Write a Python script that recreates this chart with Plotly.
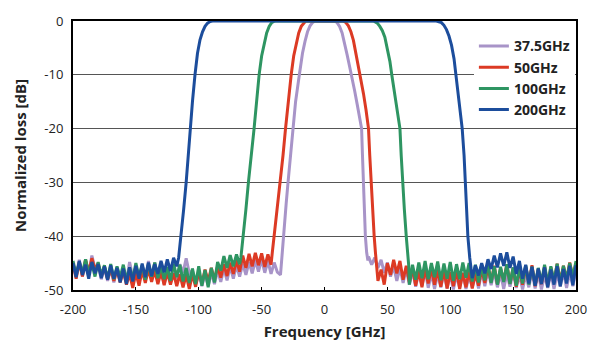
import plotly.graph_objects as go

STEP = 2.5

# ---------------- 200 GHz (blue) ----------------
blue_left_start = -200.0
blue_left_noise = [-45.0, -47.6, -44.6, -47.2, -45.3, -47.9, -44.8, -46.9, -45.2, -47.8,
                   -45.6, -48.1, -45.4, -47.9, -45.9, -48.6, -46.0, -48.9, -45.8, -48.4,
                   -45.5, -47.9, -45.1, -47.6, -44.9, -47.4, -45.2, -47.0, -44.6, -46.7,
                   -44.3, -46.5, -44.0, -45.6]
blue_edge_f = [-116, -115, -114, -112, -110, -108.5, -107, -105, -103, -101, -99, -97, -95, -93, -91, -89,
               89, 91, 93, 95, 97, 99, 101, 103, 104.5, 107, 109.5, 111, 112, 113, 114, 115.5, 116.5]
blue_edge_db = [-44, -42, -40, -35, -30, -25, -20, -15, -10, -6, -3.5, -2, -1, -0.4, -0.1, 0,
                0, -0.1, -0.3, -0.8, -1.6, -2.8, -4.5, -7, -10, -15, -20, -25, -30, -35, -40, -44, -46.5]
blue_right_start = 117.5
blue_right_noise = [-47.8, -45.4, -47.3, -45.0, -46.9, -44.3, -46.1, -43.6, -45.8, -43.2,
                    -45.5, -43.0, -45.9, -43.8, -47.0, -44.6, -47.9, -45.3, -48.8, -45.7,
                    -49.2, -46.0, -48.9, -45.8, -49.5, -46.2, -49.0, -45.6, -49.3, -46.1,
                    -48.8, -45.5, -49.1, -45.4]

# ---------------- 100 GHz (green) ----------------
green_left_start = -200.0
green_left_noise = [-44.6, -47.2, -44.9, -46.8, -44.3, -47.0, -45.1, -47.5, -44.8, -47.3,
                    -45.4, -47.9, -45.2, -48.0, -45.6, -47.7, -45.3, -48.2, -45.8, -47.9,
                    -45.0, -47.6, -45.4, -48.1, -45.2, -47.5, -44.9, -47.8, -45.5, -48.0,
                    -45.7, -48.3, -45.1, -47.6, -45.3, -48.4, -45.9, -48.7, -46.0, -48.9,
                    -45.6, -49.2, -46.3, -49.5, -45.9, -48.6, -44.8, -46.4, -43.7, -45.9,
                    -43.5, -45.6, -43.4, -45.2]
green_edge_f = [-66.5, -65.5, -64.5, -62.5, -60.5, -58, -56, -54, -52, -50, -48, -46, -44, -42, -40, -39,
                39, 40, 42, 44, 46, 48, 50, 52, 53.5, 56, 58, 60, 61, 62, 63.5, 65, 66, 67]
green_edge_db = [-44, -42, -40, -35, -30, -25, -20, -15, -10, -6.5, -4, -2.2, -1, -0.3, -0.05, 0,
                 0, -0.1, -0.4, -1, -1.8, -3, -5, -7.5, -10, -14, -17, -20, -25, -30, -35, -40, -43, -45.5]
green_right_start = 67.5
green_right_noise = [-49.0, -45.3, -48.1, -44.9, -47.8, -44.6, -48.0, -45.0, -47.6, -44.7,
                     -48.2, -45.1, -47.9, -44.8, -48.3, -45.2, -48.0, -44.9, -47.7, -45.0,
                     -48.4, -45.3, -48.6, -45.5, -48.2, -45.0, -48.7, -45.6, -49.0, -45.7,
                     -48.5, -45.2, -48.9, -45.8, -49.2, -45.9, -48.8, -45.4, -49.0, -45.7,
                     -49.1, -45.9, -48.6, -45.3, -48.9, -45.6, -48.4, -45.1, -48.7, -45.5,
                     -48.1, -45.0, -47.6, -44.6]

# ---------------- 50 GHz (red) ----------------
red_left_start = -200.0
red_left_noise = [-45.2, -47.9, -44.8, -47.5, -44.3, -46.8, -44.1, -46.2, -45.0, -47.4,
                  -45.6, -48.0, -46.0, -48.3, -46.2, -48.6, -46.5, -49.0, -47.0, -49.6,
                  -46.8, -49.2, -46.3, -48.7, -46.1, -48.5, -46.4, -48.9, -46.6, -49.1,
                  -46.7, -49.0, -46.9, -49.3, -47.1, -49.5, -47.2, -49.8, -47.0, -49.4,
                  -46.6, -48.8, -46.2, -48.4, -45.9, -48.1, -45.6, -47.7, -45.2, -47.4,
                  -44.9, -47.0, -44.5, -46.6, -43.6, -45.9, -43.3, -45.6, -43.1, -45.4,
                  -43.2, -45.7, -43.4, -45.3]
red_edge_f = [-41.5, -40.5, -39, -37.5, -35.5, -33, -31, -29, -26.5, -24.5, -22.5, -20.5, -18.5, -16.5, -15,
              15, 17, 19, 21, 23, 25, 27, 28.5, 31, 33, 35, 36, 37, 38.5, 39.5, 40.5, 41.5]
red_edge_db = [-43, -41, -38, -35, -30, -25, -20, -15, -10, -6.5, -4, -2.2, -1, -0.3, 0,
               0, -0.3, -0.9, -2, -3.6, -6, -8.5, -10, -13.5, -16.5, -20, -25, -30, -35, -40, -43, -45.5]
red_right_start = 42.5
red_right_noise = [-48.3, -46.2, -49.0, -45.0, -47.2, -44.4, -46.9, -44.6, -48.1, -45.5,
                   -48.6, -46.0, -49.2, -46.4, -49.5, -46.1, -48.8, -45.9, -49.0, -46.2,
                   -49.4, -46.3, -49.7, -46.6, -49.3, -46.2, -49.8, -46.8, -49.5, -46.4,
                   -49.7, -46.9, -49.2, -46.1, -48.7, -45.7, -48.5, -45.5, -48.9, -46.0,
                   -48.3, -45.2, -48.8, -45.9, -49.4, -46.2, -49.0, -45.7, -48.7, -45.4,
                   -49.3, -46.1, -48.9, -45.6, -49.1, -45.8, -48.6, -45.1, -48.4, -45.5,
                   -48.1, -44.9, -47.6, -45.0]

# ---------------- 37.5 GHz (lavender) ----------------
lav_left_start = -200.0
lav_left_noise = [-45.0, -47.2, -44.4, -47.5, -44.7, -46.9, -43.6, -46.0, -45.4, -48.0,
                  -45.9, -48.3, -46.2, -48.6, -45.8, -48.1, -46.0, -48.4, -44.8, -47.6,
                  -46.1, -48.7, -45.9, -48.2, -44.6, -47.5, -44.9, -47.8, -46.2, -48.9,
                  -46.0, -48.6, -45.6, -48.0, -45.2, -46.8, -44.1, -46.9, -46.4, -49.0,
                  -46.9, -49.3, -47.0, -49.2, -46.8, -48.9, -46.3, -48.5, -46.0, -48.2,
                  -45.6, -47.9, -45.4, -47.5, -45.1, -47.2, -44.8, -46.9, -44.5, -46.6,
                  -44.3, -46.8, -44.6, -47.0, -44.9, -46.7, -47.2]
lav_edge_f = [-34, -33, -32, -30.5, -29, -27, -25, -23, -20, -17.5, -15.5, -13.5, -11.5, -9.5, -7.5,
              8, 10, 12, 14, 16, 18, 20, 22, 24, 26, 28, 29.5, 30.2, 30.8, 31.5, 32.5, 33.5, 34.5]
lav_edge_db = [-44, -41, -38, -34, -30, -25, -20, -15, -10, -6, -3.8, -2, -0.9, -0.3, 0,
               0, -0.3, -1, -2.2, -4, -6.3, -8.5, -10.5, -13, -15.5, -18, -20, -25, -30, -35, -40, -43, -44.5]
lav_right_start = 35.0
lav_right_noise = [-43.8, -45.3, -44.0, -45.9, -44.4, -46.8, -44.9, -47.5, -45.6, -48.3,
                   -45.9, -48.7, -46.1, -49.0, -46.4, -49.4, -46.6, -49.2, -46.3, -49.6,
                   -46.9, -49.8, -47.0, -49.5, -46.8, -49.7, -47.1, -49.9, -47.2, -49.6,
                   -46.9, -49.8, -47.3, -49.5, -46.8, -49.7, -46.5, -49.3, -46.3, -49.1,
                   -46.6, -49.5, -46.9, -49.8, -47.0, -49.4, -46.7, -49.6, -47.1, -49.9,
                   -47.2, -49.5, -46.6, -49.7, -46.9, -49.9, -47.3, -49.6, -46.8, -49.8,
                   -47.0, -49.4, -46.5, -49.6, -46.7, -49.3, -46.3]

series_names = ["37.5GHz", "50GHz", "100GHz", "200GHz"]
series_colors = ["#a894c8", "#dc3a24", "#2e9562", "#1c4d9c"]

x_ticks = [-200, -150, -100, -50, 0, 50, 100, 150, 200]
y_ticks = [0, -10, -20, -30, -40, -50]


def build(left_start, left_noise, edge_f, edge_db, right_start, right_noise):
    xl = [left_start + STEP * i for i in range(len(left_noise))]
    xr = [right_start + STEP * i for i in range(len(right_noise))]
    return xl + list(edge_f) + xr, list(left_noise) + list(edge_db) + list(right_noise)


curves = [
    build(lav_left_start, lav_left_noise, lav_edge_f, lav_edge_db, lav_right_start, lav_right_noise),
    build(red_left_start, red_left_noise, red_edge_f, red_edge_db, red_right_start, red_right_noise),
    build(green_left_start, green_left_noise, green_edge_f, green_edge_db, green_right_start, green_right_noise),
    build(blue_left_start, blue_left_noise, blue_edge_f, blue_edge_db, blue_right_start, blue_right_noise),
]

fig = go.Figure()
for (xs, ys), name, col in zip(curves, series_names, series_colors):
    fig.add_trace(go.Scatter(x=xs, y=ys, mode="lines", name=name,
                             line=dict(color=col, width=3)))

FONT = "Open Sans"
fig.update_layout(
    width=600, height=352,
    margin=dict(l=73, r=24, t=19, b=62),
    paper_bgcolor="white", plot_bgcolor="white",
    font=dict(family=FONT, color="#222222"),
    showlegend=True,
    legend=dict(x=0.797, y=0.965, xanchor="left", yanchor="top",
                bgcolor="white", borderwidth=0,
                font=dict(family=FONT, size=14, color="#222222", weight="bold"),
                tracegroupgap=0, itemwidth=30),
)
fig.update_xaxes(range=[-200, 200], tickvals=x_ticks, ticktext=[str(v) for v in x_ticks],
                 showgrid=False, zeroline=False,
                 showline=True, linecolor="black", linewidth=2, mirror=True,
                 ticks="inside", ticklen=3, tickcolor="black", ticklabelstandoff=6,
                 tickfont=dict(family=FONT, size=13, color="#222222"),
                 title=dict(text="Frequency [GHz]", standoff=10,
                            font=dict(family=FONT, size=15, color="#222222", weight="bold")))
fig.update_yaxes(range=[-50, 0], tickvals=y_ticks, ticktext=[str(v) for v in y_ticks],
                 showgrid=True, gridcolor="#555555", gridwidth=1, zeroline=False,
                 showline=True, linecolor="black", linewidth=2, mirror=True,
                 ticks="", ticklabelstandoff=5, tickfont=dict(family=FONT, size=13, color="#222222"),
                 title=dict(text="Normalized loss [dB]", standoff=14,
                            font=dict(family=FONT, size=15, color="#222222", weight="bold")))

fig.write_html("out.html")
